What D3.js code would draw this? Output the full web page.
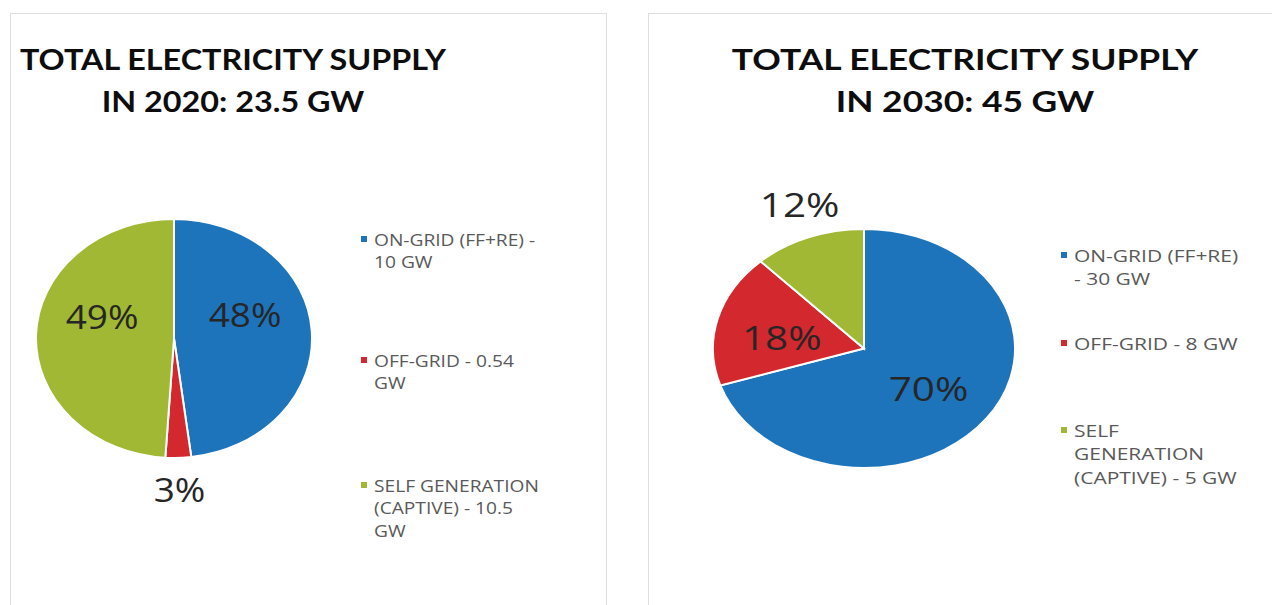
<!DOCTYPE html>
<html>
<head>
<meta charset="utf-8">
<script src="https://cdn.jsdelivr.net/npm/d3@7"></script>
<style>
    html, body { margin: 0; padding: 0; background: #fff; }
    svg { display: block; }
</style>
</head>
<body>
<div class="charts"></div>
<script>
"use strict";

//
/* Chart data */
//
var categories = ["ON-GRID (FF+RE)", "OFF-GRID", "SELF GENERATION (CAPTIVE)"];
var sliceColors = ["#1d74bb", "#d4282f", "#a0b833"];

var titles2020 = ["TOTAL ELECTRICITY SUPPLY", "IN 2020: 23.5 GW"];
var titles2030 = ["TOTAL ELECTRICITY SUPPLY", "IN 2030: 45 GW"];

// share of supply, percent (as printed on the slices)
var share2020 = [48, 3, 49];
var share2030 = [70, 18, 12];

// legend text, already broken into lines like the original
var legend2020 = [["ON-GRID (FF+RE) -", "10 GW"], ["OFF-GRID - 0.54", "GW"], ["SELF GENERATION", "(CAPTIVE) - 10.5", "GW"]];
var legend2030 = [["ON-GRID (FF+RE)", "- 30 GW"], ["OFF-GRID - 8 GW"], ["SELF", "GENERATION", "(CAPTIVE) - 5 GW"]];

//
/* Layout (pixel space of the page) */
//
var svgWidth = 1272;
var svgHeight = 605;

var panels = [
    {
        titles: titles2020, shares: share2020, legend: legend2020,
        box: { x: 10, y: 13, w: 596 },
        cx: 174, cy: 338.5, sx: 1.155,
        titleX: 233, titleY: [70, 112],
        legendX: 361, legendY: [246, 367, 492], lineGap: 22.5,
        labelNudge: [-17, 0, 17]
    },
    {
        titles: titles2030, shares: share2030, legend: legend2030,
        box: { x: 648, y: 13, w: 700 },
        cx: 864, cy: 348.5, sx: 1.264,
        titleX: 965, titleY: [70, 112],
        legendX: 1061, legendY: [262, 350, 437], lineGap: 23.5,
        labelNudge: [3, -6, 2]
    }
];

var radius = 119.5;

var svgContainer = d3.select(".charts").append("svg")
                        .attr("width", svgWidth)
                        .attr("height", svgHeight);

svgContainer.append("rect")
            .attr("width", svgWidth)
            .attr("height", svgHeight)
            .attr("fill", "#fff");

var color = d3.scaleOrdinal().domain(categories).range(sliceColors);

var pie = d3.pie().sort(null).value(function(d) { return d; });
var arc = d3.arc().innerRadius(0).outerRadius(radius);

panels.forEach(function(p)
{
    // panel frame
    svgContainer.append("rect")
                .attr("x", p.box.x + 0.5)
                .attr("y", p.box.y + 0.5)
                .attr("width", p.box.w)
                .attr("height", svgHeight + 20)
                .attr("fill", "none")
                .attr("stroke", "#dedede")
                .attr("stroke-width", 1);

    // everything in a panel is stretched horizontally like the source picture
    var g = svgContainer.append("g")
                .attr("transform", "translate(" + p.cx + "," + p.cy + ") scale(" + p.sx + ",1)");

    var X = function(px) { return (px - p.cx) / p.sx; };
    var Y = function(py) { return py - p.cy; };

    // title
    g.selectAll(".title")
        .data(p.titles)
        .enter()
        .append("text")
        .attr("class", "title")
        .attr("x", X(p.titleX))
        .attr("y", function(d, i) { return Y(p.titleY[i]); })
        .attr("text-anchor", "middle")
        .attr("font-family", "Lato, 'Open Sans', sans-serif")
        .attr("font-weight", 700)
        .attr("font-size", "28px")
        .attr("fill", "#0d0d0d")
        .text(function(d) { return d; });

    // slices
    var arcs = pie(p.shares);

    g.selectAll(".slice")
        .data(arcs)
        .enter()
        .append("path")
        .attr("class", "slice")
        .attr("d", arc)
        .attr("fill", function(d, i) { return color(categories[i]); })
        .attr("stroke", "#fff")
        .attr("stroke-width", 2)
        .attr("vector-effect", "non-scaling-stroke");

    // percentage labels: big slices inside, small ones outside
    g.selectAll(".pct")
        .data(arcs)
        .enter()
        .append("text")
        .attr("class", "pct")
        .attr("transform", function(d, i)
        {
            var a = (d.startAngle + d.endAngle) / 2 + p.labelNudge[i] * Math.PI / 180;
            var r = d.data >= 15 ? radius * 0.55 : radius * 1.27;
            return "translate(" + (r * Math.sin(a)) + "," + (-r * Math.cos(a)) + ")";
        })
        .attr("dy", "0.36em")
        .attr("text-anchor", "middle")
        .attr("font-family", "'Open Sans', sans-serif")
        .attr("font-size", "32px")
        .attr("fill", "#262626")
        .text(function(d) { return d.data + "%"; });

    // legend
    var items = g.selectAll(".legendItem")
        .data(p.legend)
        .enter()
        .append("g")
        .attr("class", "legendItem")
        .attr("transform", function(d, i) { return "translate(" + X(p.legendX) + "," + Y(p.legendY[i]) + ")"; });

    items.append("rect")
        .attr("x", 0)
        .attr("y", -10)
        .attr("width", 6 / p.sx)
        .attr("height", 6)
        .attr("fill", function(d, i) { return color(categories[i]); });

    items.append("text")
        .attr("font-family", "'Open Sans', sans-serif")
        .attr("font-size", "16.6px")
        .attr("fill", "#595959")
        .selectAll("tspan")
        .data(function(d) { return d; })
        .enter()
        .append("tspan")
        .attr("x", 13 / p.sx)
        .attr("y", function(d, i) { return i * p.lineGap; })
        .text(function(d) { return d; });
});
</script>
</body>
</html>
